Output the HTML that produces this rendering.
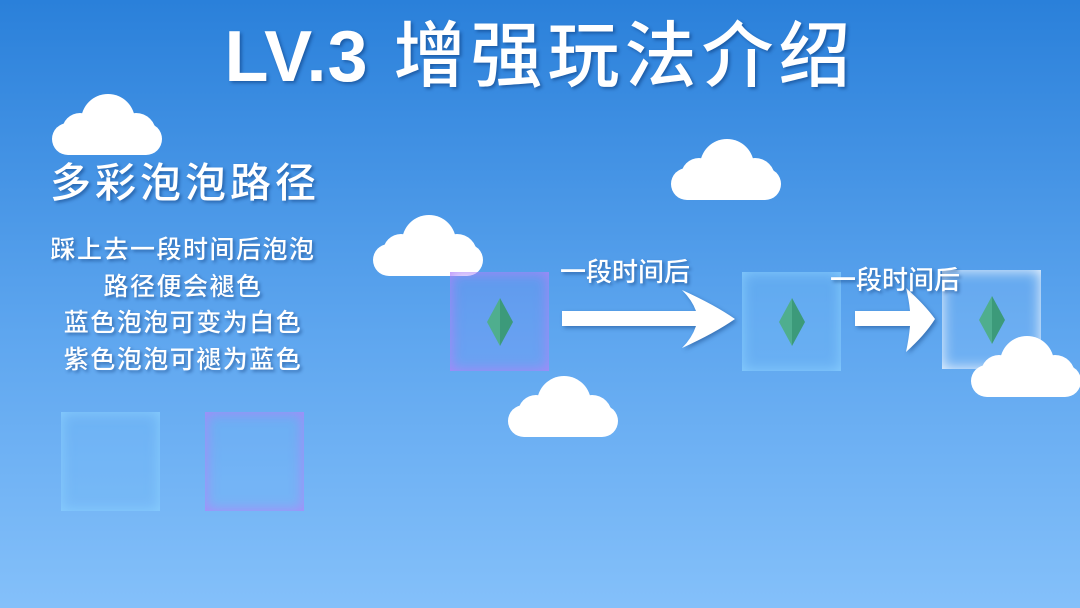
<!DOCTYPE html>
<html><head><meta charset="utf-8"><style>
html,body{margin:0;padding:0}
body{width:1080px;height:608px;position:relative;overflow:hidden;background:linear-gradient(#2a80da,#5ea6ef 55%,#84c0fa);font-family:"Liberation Sans","Noto Sans CJK SC",sans-serif;color:#fff}
.t{position:absolute;white-space:nowrap;text-shadow:2px 2px 3px rgba(0,40,100,.45);font-weight:500}
.cloud{position:absolute;width:110px;height:62px}
.box{position:absolute;width:99px;height:99px;box-sizing:border-box}
.dia{position:absolute;left:50%;top:50%;margin:-24px 0 0 -13px}
</style></head><body>
<div class="t" style="left:0;width:1080px;text-align:center;top:12px;font-size:72px;letter-spacing:5px;line-height:90px"><span style="font-weight:bold;letter-spacing:1px">LV.3</span> 增强玩法介绍</div>

<svg width="0" height="0" style="position:absolute"><defs><g id="c"><rect x="0" y="30" width="110" height="32" rx="16" fill="#fff"/><circle cx="56" cy="28" r="27" fill="#fff"/><circle cx="28" cy="38" r="18" fill="#fff"/><circle cx="84" cy="40" r="20" fill="#fff"/></g></defs></svg>
<svg class="cloud" style="left:52px;top:93px"><use href="#c"/></svg>
<svg class="cloud" style="left:671px;top:138px"><use href="#c"/></svg>
<svg class="cloud" style="left:373px;top:214px"><use href="#c"/></svg>
<svg class="cloud" style="left:508px;top:375px"><use href="#c"/></svg>

<div class="t" style="left:50px;top:157px;font-size:41px;letter-spacing:4px;line-height:52px">多彩泡泡路径</div>
<div class="t" style="left:30px;width:306px;text-align:center;top:232px;font-size:25px;line-height:36.5px;letter-spacing:1.5px">踩上去一段时间后泡泡<br>路径便会褪色<br>蓝色泡泡可变为白色<br>紫色泡泡可褪为蓝色</div>

<div class="box" style="left:61px;top:412px;background:rgba(120,190,250,.35);box-shadow:inset 0 0 14px rgba(140,210,255,.9)"></div>
<div class="box" style="left:205px;top:412px;background:rgba(120,180,250,.2);box-shadow:inset 0 0 14px rgba(180,130,250,.95)"></div>

<div class="box" style="left:450px;top:272px;background:rgba(140,140,250,.2);box-shadow:inset 0 0 14px rgba(180,130,250,.95)"><svg class="dia" width="26" height="48"><polygon points="13,0 0,24 13,48" fill="#4fae8e"/><polygon points="13,0 26,24 13,48" fill="#3c9a7a"/></svg></div>
<div class="box" style="left:742px;top:272px;background:rgba(120,190,250,.35);box-shadow:inset 0 0 14px rgba(140,210,255,.9)"><svg class="dia" width="26" height="48"><polygon points="13,0 0,24 13,48" fill="#4fae8e"/><polygon points="13,0 26,24 13,48" fill="#3c9a7a"/></svg></div>
<div class="box" style="left:942px;top:270px;background:rgba(150,200,250,.25);box-shadow:inset 0 0 14px rgba(255,255,255,.95)"><svg class="dia" width="26" height="48"><polygon points="13,0 0,24 13,48" fill="#4fae8e"/><polygon points="13,0 26,24 13,48" fill="#3c9a7a"/></svg></div>
<svg class="cloud" style="left:971px;top:335px"><use href="#c"/></svg>

<svg style="position:absolute;left:0;top:0" width="1080" height="608">
<g fill="#fff" style="filter:drop-shadow(2px 2px 2px rgba(0,40,100,.4))">
<path d="M562,311 L696,311 Q692,300 682,290 Q715,305 735,319 Q715,333 682,348 Q692,338 696,326 L562,326 Z"/>
<path d="M855,311 L910,311 Q909,300 906,288 Q925,305 935,319 Q925,335 906,352 Q909,338 910,326 L855,326 Z"/>
</g></svg>

<div class="t" style="left:560px;top:256px;font-size:26px;line-height:32px">一段时间后</div>
<div class="t" style="left:830px;top:264px;font-size:26px;line-height:32px">一段时间后</div>
</body></html>
